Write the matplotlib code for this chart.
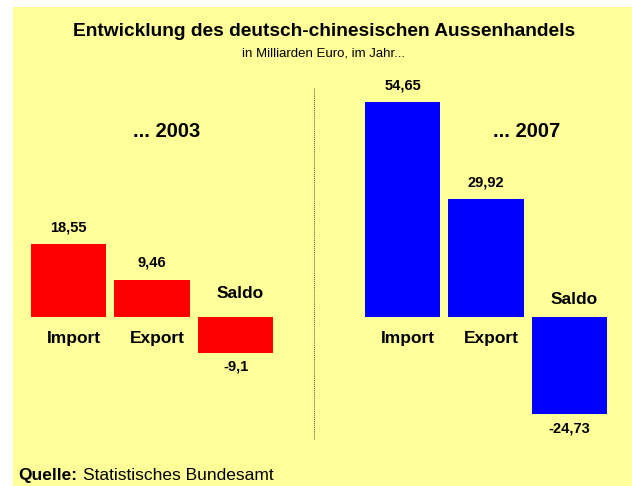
import matplotlib
matplotlib.use("Agg")
import matplotlib.pyplot as plt
from matplotlib.patches import Rectangle

plt.rcParams['font.family'] = ['Liberation Sans', 'DejaVu Sans']

# Daten (Mrd. Euro)
jahre = ["2003", "2007"]
kategorien = ["Import", "Export", "Saldo"]
werte_2003 = [18.55, 9.46, -9.1]
werte_2007 = [54.65, 29.92, -24.73]
farben = {"2003": "#ff0000", "2007": "#0000ff"}

# Pixel-Geometrie der Vorlage
W, H = 632, 486
x0_px, step_px = 68.5, 83.5     # Mitte erster Balken, Abstand
null_px, skala = 317, 3.93      # Nulllinie, px pro Mrd.
pt = 0.72                       # px -> pt bei 100 dpi

fig = plt.figure(figsize=(W / 100, H / 100), dpi=100)
fig.patch.set_facecolor("white")
fig.patches.append(Rectangle((13 / W, 0), 1 - 13 / W, (H - 7) / H,
                             transform=fig.transFigure, facecolor="#ffff99",
                             edgecolor="none", zorder=-5))

ax = fig.add_axes([0, 0, 1, 1])
ax.set_facecolor("none")
ax.axis("off")
ax.set_xlim(-x0_px / step_px, (W - x0_px) / step_px)
ax.set_ylim((null_px - H) / skala, null_px / skala)

# (Jahr, Werte, erste Position, Abstand Saldo-Label, x-Versatz Jahrestitel)
gruppen = [("2003", werte_2003, 0, 24, 1.17), ("2007", werte_2007, 4, 18, 1.49)]
for jahr, werte, start, saldo_off, titel_dx in gruppen:
    pos = [start + i for i in range(len(werte))]
    ax.bar(pos, werte, width=0.91, color=farben[jahr], zorder=2)
    for p, kat, v in zip(pos, kategorien, werte):
        txt = str(v).replace(".", ",")
        off = 17 if v > 0 else -14
        ax.annotate(txt, xy=(p, v), xytext=(0, off * pt), textcoords="offset points",
                    ha="center", va="center", fontsize=10.5, fontweight="bold")
        lab_off = -21 if v > 0 else saldo_off
        ax.annotate(kat, xy=(p, 0), xytext=(5 * pt, lab_off * pt), textcoords="offset points",
                    ha="center", va="center", fontsize=12.5, fontweight="bold")
    # Jahresüberschrift
    ax.text(start + titel_dx, 47.1, "... " + jahr, ha="center", va="center",
            fontsize=14.5, fontweight="bold")

# gepunktete Trennlinie
ax.plot([(314 - x0_px) / step_px] * 2, [(null_px - 88) / skala, (null_px - 440) / skala],
        linestyle=(0, (1, 1)), color="#555555", linewidth=0.7)

fig.text(324 / W, 1 - 31 / H, "Entwicklung des deutsch-chinesischen Aussenhandels",
         ha="center", va="center", fontsize=13.8, fontweight="bold")
fig.text(324 / W, 1 - 53 / H, "in Milliarden Euro, im Jahr...",
         ha="center", va="center", fontsize=9.5)
fig.text(18 / W, 1 - 475 / H, "Quelle:", ha="left", va="center",
         fontsize=12.5, fontweight="bold")
fig.text(83 / W, 1 - 475 / H, "Statistisches Bundesamt", ha="left", va="center",
         fontsize=12.5)

fig.savefig("out.png", dpi=100)
